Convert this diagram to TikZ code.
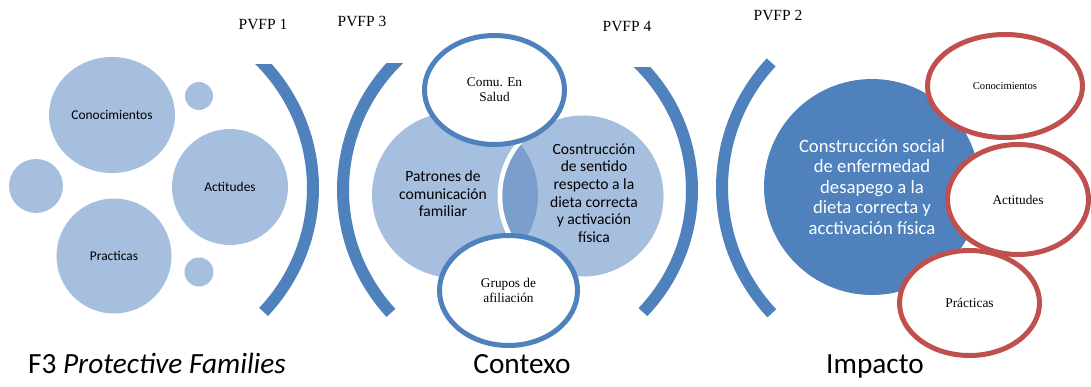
\documentclass[tikz,border=0pt]{standalone}
\usepackage{fontspec}
\setmainfont{Liberation Serif}
\newfontfamily\calfont{Carlito}
\usetikzlibrary{shapes.geometric}
\definecolor{lightblue}{HTML}{A7BFDE}
\definecolor{midblue}{HTML}{7B9FCC}
\definecolor{accblue}{HTML}{4F81BD}
\definecolor{accred}{HTML}{C0504D}
\begin{document}
\begin{tikzpicture}[x=1pt,y=-1pt,
  bubble/.style={fill=lightblue,draw=none,inner sep=0pt,font=\calfont\fontsize{13.4}{16}\selectfont},
  bracket/.style={draw=accblue,line width=12pt,line cap=butt},
  blueoval/.style={ellipse,draw=accblue,line width=5pt,fill=white,inner sep=0pt,align=center,font=\fontsize{13.3}{15}\selectfont},
  redoval/.style={ellipse,draw=accred,line width=5pt,fill=white,inner sep=0pt,align=center},
  pvfp/.style={anchor=base,font=\fontsize{15.5}{18}\selectfont},
  title/.style={anchor=base,font=\calfont\fontsize{29.3}{33}\selectfont},
  venntext/.style={align=center,font=\calfont\fontsize{15.6}{17.6}\selectfont}
]
\useasboundingbox (0,0) rectangle (1091,386);

% ---------- left panel ----------
\node[bubble,ellipse,minimum width=126,minimum height=116] (conoc) at (112,115) {Conocimientos};
\node[bubble,circle,minimum size=28] (sm1) at (199,96) {};
\node[bubble,circle,minimum size=116] (actit) at (230,187) {Actitudes};
\node[bubble,circle,minimum size=54] (sm2) at (36,186) {};
\node[bubble,circle,minimum size=115] (pract) at (114,256) {Practicas};
\node[bubble,circle,minimum size=29] (sm3) at (199,272) {};
\begin{scope}
  \clip (0,64) rectangle (1091,386);
  \draw[bracket] ([shift={(43.5:180)}]133,188) arc[start angle=43.5,end angle=-50,radius=180];
\end{scope}
\node[pvfp] (p1) at (263,29) {PVFP 1};
\node[title] (f3) at (157,373) {F3 \itshape Protective Families};

% ---------- middle panel ----------
\begin{scope}
  \clip (0,63) rectangle (1091,386);
  \draw[bracket] ([shift={(137.4:181.6)}]524.6,190) arc[start angle=137.4,end angle=230,radius=181.6];
\end{scope}
\begin{scope}
  \clip (0,67) rectangle (1091,386);
  \draw[bracket] ([shift={(43.8:176.4)}]515.6,190) arc[start angle=43.8,end angle=-50,radius=176.4];
\end{scope}
\node[circle,fill=lightblue,minimum size=166,inner sep=0pt] (vl) at (455,195) {};
\node[circle,fill=lightblue,draw=white,line width=4.5pt,minimum size=166,inner sep=0pt] (vr) at (583,196) {};
\begin{scope}
  \clip (vl.center) circle[radius=83];
  \fill[midblue] (vr.center) circle[radius=83];
\end{scope}
\draw[white,line width=4.5pt] (vr.center) circle[radius=83];
\node[venntext] (patr) at (443,194) {Patrones de\\comunicación\\familiar};
\node[venntext] (cosn) at (594,193) {Cosntrucción\\de sentido\\respecto a la\\dieta correcta\\y activación\\física};
\node[blueoval,minimum width=140,minimum height=109] (comu) at (494.5,90) {Comu. En\\Salud};
\node[blueoval,minimum width=138,minimum height=110] (grup) at (508.5,290.5) {Grupos de\\afiliación};
\node[pvfp] (p3) at (362,26) {PVFP 3};
\node[pvfp] (p4) at (627,31) {PVFP 4};
\node[title] (ctx) at (522,373) {Contexo};

% ---------- right panel ----------
\draw[bracket] ([shift={(136.8:183.8)}]905.8,187.5) arc[start angle=136.8,end angle=222.9,radius=183.8];
\node[circle,fill=accblue,minimum size=216,inner sep=0pt,text=white,align=center,
      font=\calfont\fontsize{18.7}{20.5}\selectfont] (soc) at (872,187)
      {Construcción social\\de enfermedad\\desapego a la\\dieta correcta y\\acctivación física};
\node[redoval,minimum width=155,minimum height=103,font=\fontsize{10.6}{12}\selectfont] (rc) at (1005,86) {Conocimientos};
\node[redoval,minimum width=141,minimum height=110,font=\fontsize{13.3}{15}\selectfont] (ra) at (1018,199.5) {Actitudes};
\node[redoval,minimum width=140,minimum height=105,font=\fontsize{13.4}{15}\selectfont] (rp) at (969.5,303) {Prácticas};
\node[pvfp] (p2) at (778,20) {PVFP 2};
\node[title] (imp) at (875,373) {Impacto};
\end{tikzpicture}
\end{document}
